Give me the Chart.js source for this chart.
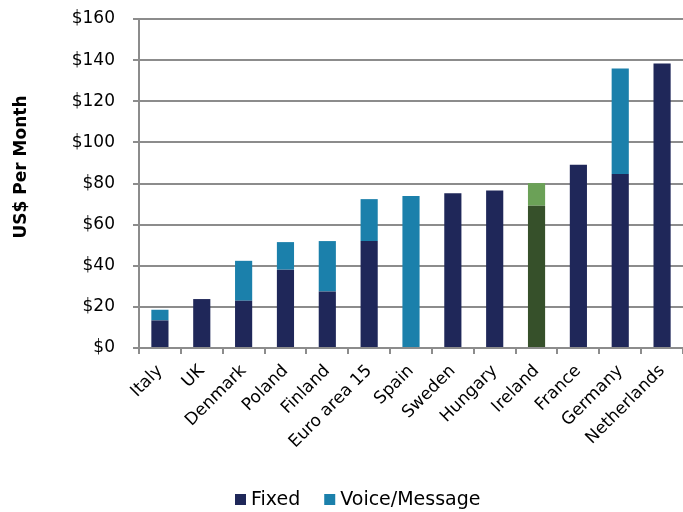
<!DOCTYPE html>
<html>
<head>
<meta charset="utf-8">
<script src="https://cdn.jsdelivr.net/npm/chart.js@4"></script>
<style>
html,body{margin:0;padding:0;background:#fff;}
#wrap{width:683px;height:512px;}
</style>
</head>
<body>
<div id="wrap"><canvas id="c" width="683" height="512"></canvas></div>
<script>
const categories = ["Italy","UK","Denmark","Poland","Finland","Euro area 15","Spain","Sweden","Hungary","Ireland","France","Germany","Netherlands"];
const fixedValues = [13.4, 23.8, 23.0, 38.1, 27.5, 52.0, 0, 75.3, 76.6, 69.2, 89.1, 84.6, 138.4];
const voiceValues = [5.2, 0, 19.4, 13.4, 24.5, 20.4, 73.9, 0, 0, 11.0, 0, 51.3, 0];
const yTicks = [0, 20, 40, 60, 80, 100, 120, 140, 160];
const seriesNames = ["Fixed", "Voice/Message"];
const yTitle = "US$ Per Month";

const FIXED = "#1f2759", VOICE = "#1b80ab";
const IRL_FIXED = "#36502a", IRL_VOICE = "#6ba157";
const seriesColors = [FIXED, VOICE];
const fixedColors = categories.map(c => c === "Ireland" ? IRL_FIXED : FIXED);
const voiceColors = categories.map(c => c === "Ireland" ? IRL_VOICE : VOICE);

const FONT = "'DejaVu Sans', sans-serif";

const legendPlugin = {
  id: 'customLegend',
  afterDraw(chart) {
    const ctx = chart.ctx;
    ctx.save();
    ctx.font = "19px " + FONT;
    ctx.textBaseline = 'middle';
    ctx.textAlign = 'left';
    let x = 235;
    const cy = 500;
    seriesNames.forEach((name, i) => {
      ctx.fillStyle = seriesColors[i];
      ctx.fillRect(x, cy - 6, 11, 11);
      x += 16;
      ctx.fillStyle = '#000';
      ctx.fillText(name, x, cy);
      x += ctx.measureText(name).width + 24;
    });
    ctx.restore();
  }
};

const yTitlePlugin = {
  id: 'yTitle',
  afterDraw(chart) {
    const ctx = chart.ctx;
    ctx.save();
    ctx.translate(22, 167);
    ctx.rotate(-Math.PI / 2);
    ctx.font = "bold 17px " + FONT;
    ctx.fillStyle = '#000';
    ctx.textAlign = 'center';
    ctx.textBaseline = 'middle';
    ctx.fillText(yTitle, 0, 0);
    ctx.restore();
  }
};

new Chart(document.getElementById('c'), {
  type: 'bar',
  data: {
    labels: categories,
    datasets: [
      { label: seriesNames[0], data: fixedValues, backgroundColor: fixedColors, borderWidth: 0, barPercentage: 0.41, categoryPercentage: 1.0 },
      { label: seriesNames[1], data: voiceValues, backgroundColor: voiceColors, borderWidth: 0, barPercentage: 0.41, categoryPercentage: 1.0 }
    ]
  },
  plugins: [legendPlugin, yTitlePlugin],
  options: {
    responsive: false,
    animation: false,
    layout: { padding: { top: 19, right: 0, bottom: 43, left: 0 } },
    plugins: {
      legend: { display: false },
      tooltip: { enabled: false }
    },
    scales: {
      x: {
        stacked: true,
        offset: true,
        grid: { display: true, offset: true, drawOnChartArea: false, color: '#8c8c8c', lineWidth: 2, tickLength: 6 },
        border: { display: true, color: '#8c8c8c', width: 2 },
        ticks: { font: { family: FONT, size: 17 }, color: '#000', minRotation: 45, maxRotation: 45, autoSkip: false, padding: 7 },
        afterFit: (s) => { s.height = 121; s.paddingLeft = 0; s.paddingRight = 0; }
      },
      y: {
        stacked: true,
        min: 0, max: 160,
        afterBuildTicks: (s) => { s.ticks = yTicks.map(v => ({ value: v })); },
        grid: { color: '#8c8c8c', lineWidth: 2, tickLength: 6 },
        border: { display: true, color: '#8c8c8c', width: 2 },
        ticks: { font: { family: FONT, size: 17 }, color: '#000', padding: 18, callback: (v) => '$' + v },
        afterFit: (s) => { s.width = 139; s.paddingTop = 0; s.paddingBottom = 0; }
      }
    }
  }
});
</script>
</body>
</html>
